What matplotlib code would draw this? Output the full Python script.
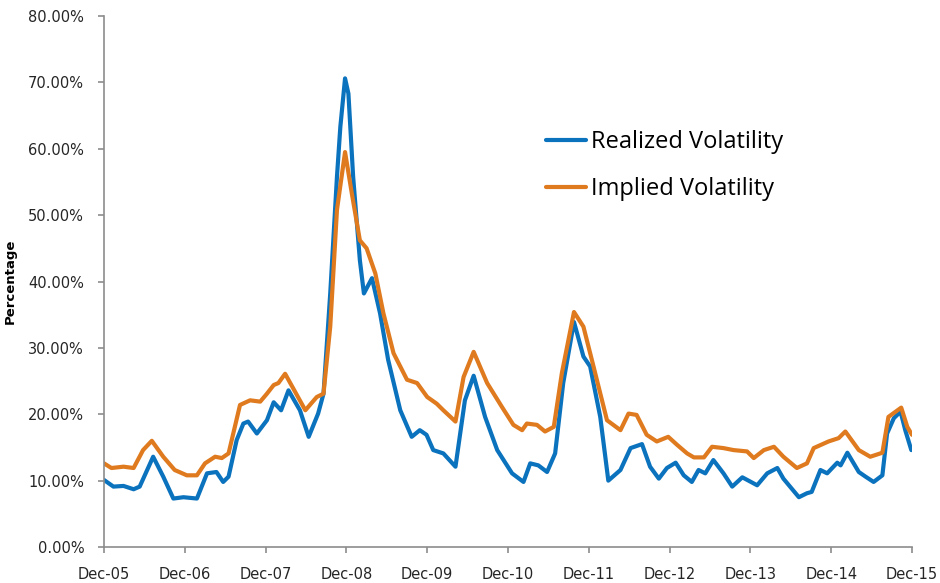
import matplotlib
matplotlib.use("Agg")
import matplotlib.pyplot as plt
from matplotlib.ticker import FuncFormatter

# months since Dec-05, values in percent
real_m = [0, 1.4, 2.9, 4.4, 5.3, 7.3, 8.8, 10.3, 11.8, 13.8, 15.3, 16.7, 17.7, 18.5,
          19.7, 20.7, 21.4, 22.7, 24.2, 25.2, 26.3, 27.4, 29.1, 30.4, 31.8, 32.6, 33.6,
          34.6, 35.1, 35.8, 36.3, 37.0, 38.0, 38.6, 39.8, 41.0, 42.2, 44.0, 45.7, 46.9,
          47.9, 48.9, 50.4, 52.2, 53.6, 54.9, 56.6, 58.4, 60.6, 62.3, 63.3, 64.5, 65.8,
          67.0, 68.2, 69.8, 71.2, 72.2, 73.7, 74.9, 76.7, 78.2, 79.9, 81.1, 82.4, 83.6,
          84.9, 86.1, 87.3, 88.3, 89.3, 90.5, 92.0, 93.3, 94.8, 97.0, 98.5, 100.0, 100.9,
          103.2, 104.4, 105.1, 106.4, 107.4, 108.9, 109.4, 110.4, 112.1, 113.1, 114.3,
          115.6, 116.3, 117.3, 118.3, 119.0, 119.9]
real_v = [10.1, 9.1, 9.2, 8.7, 9.1, 13.6, 10.6, 7.3, 7.5, 7.3, 11.1, 11.3, 9.8, 10.6,
          16.1, 18.6, 18.9, 17.1, 19.1, 21.8, 20.6, 23.6, 20.6, 16.6, 20.1, 23.1, 38.2,
          55.8, 63.3, 70.6, 68.3, 55.8, 43.2, 38.2, 40.5, 35.2, 28.2, 20.6, 16.6, 17.6,
          16.9, 14.6, 14.1, 12.1, 22.1, 25.8, 19.6, 14.6, 11.1, 9.8, 12.6, 12.3, 11.3,
          14.1, 24.7, 33.9, 28.7, 27.2, 19.6, 10.0, 11.6, 14.9, 15.5, 12.1, 10.3, 11.9,
          12.7, 10.8, 9.8, 11.6, 11.1, 13.1, 11.1, 9.1, 10.5, 9.3, 11.1, 11.9, 10.3,
          7.5, 8.1, 8.3, 11.6, 11.1, 12.7, 12.3, 14.2, 11.3, 10.6, 9.8,
          10.8, 17.1, 19.4, 20.4, 17.6, 14.6]

impl_m = [0, 1.1, 2.9, 4.4, 5.8, 7.1, 8.8, 10.5, 12.3, 13.8, 15.0, 16.5, 17.5, 18.5,
          20.2, 21.7, 23.2, 24.2, 25.2, 25.9, 26.9, 28.1, 29.9, 31.6, 32.6, 33.6, 34.6,
          35.8, 36.8, 38.0, 39.0, 40.3, 41.5, 43.0, 45.0, 46.5, 48.0, 49.4, 50.4, 52.2,
          53.4, 54.9, 56.9, 59.1, 60.8, 62.1, 62.8, 64.3, 65.5, 66.8, 68.0, 69.8, 71.2,
          72.7, 74.7, 76.7, 77.9, 79.1, 80.6, 82.1, 83.8, 85.1, 86.6, 87.6, 89.1, 90.3,
          92.0, 93.5, 95.5, 96.5, 98.0, 99.5, 100.9, 102.9, 104.4, 105.4, 107.6, 109.1,
          110.1, 112.1, 113.8, 115.6, 116.5, 118.4, 119.3, 120.0]
impl_v = [12.6, 11.9, 12.1, 11.9, 14.6, 16.0, 13.6, 11.6, 10.8, 10.8, 12.6, 13.6, 13.4, 14.1,
          21.4, 22.1, 21.9, 23.1, 24.4, 24.7, 26.1, 23.9, 20.6, 22.6, 23.1, 33.2, 50.8,
          59.5, 53.3, 46.2, 45.0, 41.2, 35.2, 29.2, 25.2, 24.7, 22.6, 21.6, 20.6, 18.9,
          25.6, 29.4, 24.7, 21.1, 18.4, 17.6, 18.6, 18.4, 17.4, 18.1, 26.2, 35.4, 33.2,
          27.2, 19.1, 17.6, 20.1, 19.9, 16.9, 15.9, 16.6, 15.4, 14.1, 13.5, 13.5, 15.1,
          14.9, 14.6, 14.4, 13.4, 14.6, 15.1, 13.6, 11.9, 12.6, 14.9, 15.9, 16.4,
          17.4, 14.6, 13.6, 14.2, 19.6, 21.0, 18.1, 16.9]

tick_m = [0, 12, 24, 36, 48, 60, 72, 84, 96, 108, 120]
tick_labels = ["Dec-05", "Dec-06", "Dec-07", "Dec-08", "Dec-09", "Dec-10",
               "Dec-11", "Dec-12", "Dec-13", "Dec-14", "Dec-15"]

plt.rcParams['font.family'] = ['DejaVu Sans']

fig = plt.figure(figsize=(9.4, 5.83), dpi=100)
ax = fig.add_axes([104/940, 1-547/583, 808/940, 531/583])

ax.plot(real_m, real_v, color='#0b72bd', lw=3, label='Realized Volatility',
        solid_joinstyle='round', solid_capstyle='round')
ax.plot(impl_m, impl_v, color='#df7a1f', lw=3, label='Implied Volatility',
        solid_joinstyle='round', solid_capstyle='round')

ax.set_xlim(0, 120)
ax.set_ylim(0, 80)
ax.set_yticks(range(0, 81, 10))
ax.yaxis.set_major_formatter(FuncFormatter(lambda v, p: "%.2f%%" % v))
ax.set_xticks(tick_m)
ax.set_xticklabels(tick_labels)

for s in ['top', 'right']:
    ax.spines[s].set_visible(False)
for s in ['left', 'bottom']:
    ax.spines[s].set_color('#8c8c8c')
    ax.spines[s].set_linewidth(1.2)
ax.tick_params(colors='#8c8c8c', length=4.3, width=1.2, labelcolor='#262626', labelsize=10.5)
ax.tick_params(axis='y', pad=10)
ax.tick_params(axis='x', pad=10)

ax.set_ylabel('Percentage', fontsize=9.5, fontweight='bold')
ax.yaxis.set_label_coords(-0.108, 0.5)

ax.legend(loc='upper left', bbox_to_anchor=(0.532, 0.8075), frameon=False, borderpad=0,
          prop={'family': ['Open Sans', 'DejaVu Sans'], 'size': 17},
          handlelength=1.7, handletextpad=0.2, labelspacing=0.97)

fig.savefig('out.png', dpi=100)
